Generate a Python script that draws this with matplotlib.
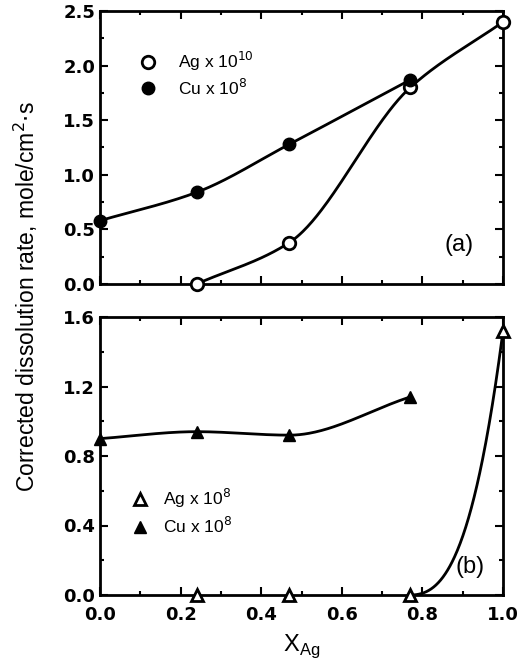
import numpy as np
import matplotlib.pyplot as plt
from matplotlib.ticker import MultipleLocator

# (a) rates vs Ag mole fraction
ag_a_x = [0.24, 0.47, 0.77, 1.0]
ag_a = [0.0, 0.38, 1.80, 2.40]      # Ag x 1e10
cu_a_x = [0.0, 0.24, 0.47, 0.77]
cu_a = [0.58, 0.84, 1.28, 1.87]     # Cu x 1e8
# (b) rates
ag_b_x = [0.24, 0.47, 0.77, 1.0]
ag_b = [0.0, 0.0, 0.0, 1.52]        # Ag x 1e8
cu_b_x = [0.0, 0.24, 0.47, 0.77]
cu_b = [0.90, 0.94, 0.92, 1.14]     # Cu x 1e8


def hermite(x, y, m, n=200):
    """Cubic Hermite curve through (x, y) with node slopes m."""
    x = np.asarray(x, float)
    y = np.asarray(y, float)
    m = np.asarray(m, float)
    h = np.diff(x)
    xs = np.linspace(x[0], x[-1], n)
    idx = np.clip(np.searchsorted(x, xs) - 1, 0, len(x) - 2)
    t = (xs - x[idx]) / h[idx]
    h00 = 2 * t**3 - 3 * t**2 + 1
    h10 = t**3 - 2 * t**2 + t
    h01 = -2 * t**3 + 3 * t**2
    h11 = t**3 - t**2
    ys = h00 * y[idx] + h10 * h[idx] * m[idx] + h01 * y[idx + 1] + h11 * h[idx] * m[idx + 1]
    return xs, ys


def pchip(x, y):
    """Monotone cubic (Fritsch-Carlson) curve through the points."""
    x = np.asarray(x, float)
    y = np.asarray(y, float)
    h = np.diff(x)
    d = np.diff(y) / h
    m = np.zeros_like(y)
    for k in range(1, len(x) - 1):
        if d[k - 1] * d[k] > 0:
            w1 = 2 * h[k] + h[k - 1]
            w2 = h[k] + 2 * h[k - 1]
            m[k] = (w1 + w2) / (w1 / d[k - 1] + w2 / d[k])
    m[0] = d[0]
    m[-1] = d[-1]
    return hermite(x, y, m)


plt.rcParams['font.family'] = ['Liberation Sans', 'DejaVu Sans']

fig = plt.figure(figsize=(5.21, 6.65), dpi=100)
ax1 = fig.add_axes([100 / 521, 1 - 284 / 665, 403 / 521, 273 / 665])
ax2 = fig.add_axes([100 / 521, 1 - 595 / 665, 403 / 521, 278 / 665])

lw = 2.0
ms = 9

# (a)
xs, ys = pchip(ag_a_x, ag_a)
ax1.plot(xs, ys, color='black', lw=lw, zorder=2)
xs, ys = pchip(cu_a_x, cu_a)
ax1.plot(xs, ys, color='black', lw=lw, zorder=2)
ax1.plot(ag_a_x, ag_a, 'o', ms=ms, mfc='white', mec='black', mew=2, ls='none',
         label='Ag x 10$^{10}$', zorder=3, clip_on=False)
ax1.plot(cu_a_x, cu_a, 'o', ms=ms, mfc='black', mec='black', ls='none',
         label='Cu x 10$^{8}$', zorder=3, clip_on=False)
ax1.set_ylim(0, 2.5)
ax1.yaxis.set_major_locator(MultipleLocator(0.5))
ax1.yaxis.set_minor_locator(MultipleLocator(0.25))
ax1.tick_params(labelbottom=False)
ax1.text(0.856, 0.143, '(a)', transform=ax1.transAxes, fontsize=17,
         ha='left', va='center')
ax1.legend(loc='center left', bbox_to_anchor=(0.06, 0.77), frameon=False,
           fontsize=12.5, handletextpad=1.2, labelspacing=0.25, handlelength=1.0)

# (b)
# Ag stays at zero up to x = 0.77, then rises steeply to pure Ag
x0, x1 = ag_b_x[2], ag_b_x[3]
xs, ys = hermite([x0, x1], [ag_b[2], ag_b[3]],
                 [0.0, 2.7 * (ag_b[3] - ag_b[2]) / (x1 - x0)])
ax2.plot(xs, ys, color='black', lw=lw, zorder=2)
xs, ys = pchip(cu_b_x, cu_b)
ax2.plot(xs, ys, color='black', lw=lw, zorder=2)
ax2.plot(ag_b_x, ag_b, '^', ms=ms, mfc='white', mec='black', mew=2, ls='none',
         label='Ag x 10$^{8}$', zorder=3, clip_on=False)
ax2.plot(cu_b_x, cu_b, '^', ms=ms, mfc='black', mec='black', ls='none',
         label='Cu x 10$^{8}$', zorder=3, clip_on=False)
ax2.set_ylim(0, 1.6)
ax2.yaxis.set_major_locator(MultipleLocator(0.4))
ax2.yaxis.set_minor_locator(MultipleLocator(0.2))
ax2.text(0.881, 0.10, '(b)', transform=ax2.transAxes, fontsize=17,
         ha='left', va='center')
ax2.legend(loc='center left', bbox_to_anchor=(0.04, 0.30), frameon=False,
           fontsize=12.5, handletextpad=0.8, labelspacing=0.35, handlelength=1.0)
ax2.set_xlabel('X$_{\\mathregular{ Ag}}$', fontsize=17, labelpad=6)

for ax in (ax1, ax2):
    ax.set_xlim(0, 1.0)
    ax.xaxis.set_major_locator(MultipleLocator(0.2))
    ax.xaxis.set_minor_locator(MultipleLocator(0.1))
    ax.tick_params(which='both', direction='in', top=True, right=True, width=1.5)
    ax.tick_params(which='major', length=6)
    ax.tick_params(which='minor', length=3)
    ax.tick_params(axis='x', pad=8)
    for lab in ax.get_xticklabels() + ax.get_yticklabels():
        lab.set_fontfamily('DejaVu Sans')
        lab.set_fontweight('bold')
        lab.set_fontsize(13)
    for sp in ax.spines.values():
        sp.set_linewidth(2)

fig.text(0.05, 1 - 297 / 665, 'Corrected dissolution rate, mole/cm$^{2}$$\\cdot$s',
         rotation=90, ha='center', va='center', fontsize=16.5)

fig.savefig('out.png', dpi=100)
